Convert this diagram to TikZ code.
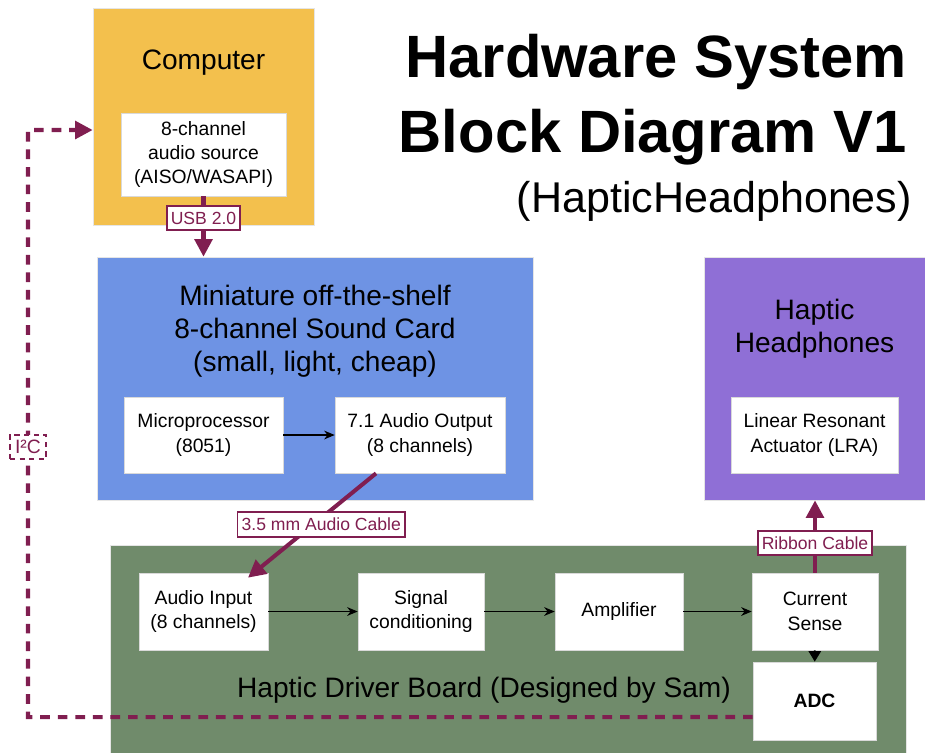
\documentclass[tikz,border=0pt]{standalone}
\usepackage{fontspec}
\setmainfont{Liberation Sans}
\usetikzlibrary{arrows.meta,positioning}

\definecolor{compOrange}{RGB}{243,192,77}
\definecolor{cardBlue}{RGB}{110,147,228}
\definecolor{phoneViolet}{RGB}{143,111,214}
\definecolor{boardGreen}{RGB}{112,139,107}
\definecolor{cableRed}{RGB}{128,30,80}

\begin{document}
\begin{tikzpicture}[x=0.02cm,y=-0.02cm,>={Stealth[length=6pt,width=5pt]}]
      \tikzstyle{group}=[draw=black!10,line width=0.4pt,inner sep=0pt]
      \tikzstyle{block}=[draw=black!15,fill=white,align=center,inner sep=0pt,font=\fontsize{11}{13.9}\selectfont]
      \tikzstyle{heading}=[align=center,font=\fontsize{16}{18.7}\selectfont]
      \tikzstyle{wire}=[->,line width=0.6pt]
      \tikzstyle{cable}=[draw=cableRed,line width=2.3pt,-{Triangle[length=10pt,width=10pt]}]
      \tikzstyle{tag}=[draw=cableRed,fill=white,text=cableRed,line width=1.1pt,inner xsep=2.4pt,inner ysep=3.4pt,font=\fontsize{10}{11}\selectfont]
      \tikzstyle{link}=[draw=cableRed,line width=2.3pt,dash pattern=on 5.5pt off 4.5pt,-{Triangle[length=10pt,width=10pt]}]

      \useasboundingbox[fill=white] (0,0) rectangle (925,752);

      % title
      \node[anchor=base east,font=\fontsize{34}{40}\selectfont\bfseries] (head1) at (913,77) {Hardware System};
      \node[anchor=base east,font=\fontsize{34}{40}\selectfont\bfseries] (head2) at (913,152) {Block Diagram V1};
      \node[anchor=base east,font=\fontsize{24.5}{28}\selectfont] (head3) at (918,212) {(HapticHeadphones)};

      % computer
      \node[group,fill=compOrange,minimum width=4.42cm,minimum height=4.34cm] (comp) at (203.5,116.5) {};
      \node[heading] (compT) at (203.5,63) {Computer};
      \node[block,minimum width=3.3cm,minimum height=1.66cm] (src) at (203.5,154.5) {8-channel\\audio source\\(AISO/WASAPI)};

      % sound card
      \node[group,fill=cardBlue,minimum width=8.72cm,minimum height=4.86cm] (card) at (315,378.5) {};
      \node[heading] (cardT) at (315,331) {Miniature off-the-shelf\\8-channel Sound Card\\(small, light, cheap)};
      \node[block,minimum width=3.18cm,minimum height=1.52cm] (mcu) at (203.5,435) {Microprocessor\\(8051)};
      \node[block,minimum width=3.4cm,minimum height=1.52cm] (out) at (420,435) {7.1 Audio Output\\(8 channels)};

      % headphones
      \node[group,fill=phoneViolet,minimum width=4.42cm,minimum height=4.86cm] (phones) at (814.5,378.5) {};
      \node[heading] (phonesT) at (814.5,328.5) {Haptic\\Headphones};
      \node[block,minimum width=3.34cm,minimum height=1.52cm] (lra) at (814.5,435) {Linear Resonant\\Actuator (LRA)};

      % driver board (runs off the bottom edge)
      \node[group,fill=boardGreen,minimum width=15.92cm,minimum height=4.3cm] (board) at (508,652.5) {};
      \node[heading] (boardT) at (484,690) {Haptic Driver Board (Designed by Sam)};
      \node[block,minimum width=2.58cm,minimum height=1.54cm] (ain) at (203.5,611.5) {Audio Input\\(8 channels)};
      \node[block,minimum width=2.52cm,minimum height=1.54cm] (sig) at (421,611.5) {Signal\\conditioning};
      \node[block,minimum width=2.56cm,minimum height=1.54cm] (amp) at (619,611.5) {Amplifier};
      \node[block,minimum width=2.52cm,minimum height=1.54cm] (sense) at (815,611.5) {Current\\Sense};
      \node[block,minimum width=2.46cm,minimum height=1.56cm,font=\fontsize{11}{13.9}\selectfont\bfseries] (adc) at (814.5,701) {ADC};

      % signal flow
      \draw[wire] (mcu)--(out);
      \draw[wire] (ain)--(sig);
      \draw[wire] (sig)--(amp);
      \draw[wire] (amp)--(sense);
      \draw[wire,-{Triangle[length=6pt,width=7pt]},line width=1pt] (sense)--(adc);

      % cables
      \draw[cable] (src.south)--node[tag,pos=0.36]{USB 2.0}(src.south |- card.north);
      \draw[cable] ([xshift=-0.88cm]out.south)--node[tag,pos=0.49,xshift=0.16cm]{3.5 mm Audio Cable}([xshift=0.89cm,yshift=-0.1cm]ain.north);
      \draw[cable] (sense.north)--node[tag,pos=0.41]{Ribbon Cable}(sense.north |- phones.south);

      % I2C back to computer
      \coordinate (i2cLow) at (28,717);
      \coordinate (i2cHigh) at (28,130);
      \draw[link] ([yshift=-0.32cm]adc.west)--(i2cLow)--node[tag,pos=0.46,inner sep=3pt,font=\fontsize{11}{12}\selectfont,dash pattern=on 3pt off 2.5pt]{I²C}(i2cHigh)--(i2cHigh -| comp.west);
    \end{tikzpicture}
\end{document}
